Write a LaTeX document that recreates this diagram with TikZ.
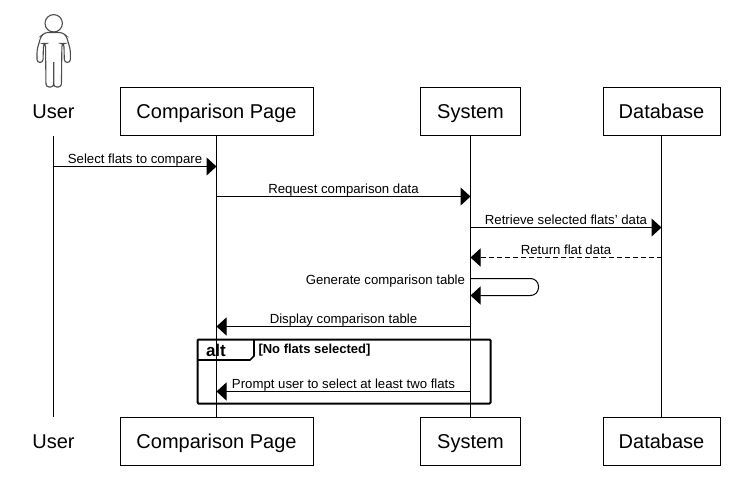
\documentclass[tikz,border=0pt]{standalone}
\usepackage{fontspec}
\setmainfont{Liberation Sans}
\usetikzlibrary{arrows.meta}

\begin{document}
\begin{tikzpicture}[x=1pt,y=-1pt,line width=1pt]
    \tikzstyle{every node}=[font=\fontsize{13.2}{15}\selectfont,inner sep=0pt]
    \tikzstyle{actorbox}=[font=\fontsize{20}{24}\selectfont,minimum height=48.5pt,text height=18pt,text depth=5pt]
    \tikzstyle{partbox}=[actorbox,draw]
    \tikzstyle{msg}=[-{Triangle[length=10pt,width=18pt]}]
    \tikzstyle{msglabel}=[above=3pt,text height=9pt,text depth=0pt]
    \useasboundingbox (0,0) rectangle (736,501);
    %% Actor figure
    \draw[line width=1.1pt,black!70] (53.7,23.3) circle (8.7);
    \draw[line width=1.1pt,black!70,rounded corners=3pt]
        (53.7,62) -- (53.7,87) -- (46,87) -- (45.5,43.5) -- (43.5,43.5) -- (43,62.5) -- (37,62.5)
        -- (37,50) -- (41,36) -- (45,32.5) -- (62.4,32.5) -- (66.4,36) -- (70.4,50) -- (70.4,62.5)
        -- (64.4,62.5) -- (63.9,43.5) -- (61.9,43.5) -- (61.4,87) -- (53.7,87) -- (53.7,80);
    %% Top row
    \node at (53.5,111.5) [actorbox] (UserTop) {User};
    \node at (216.5,111.5) [partbox,minimum width=193pt] (PageTop) {Comparison Page};
    \node at (470.5,111.5) [partbox,minimum width=100pt] (SystemTop) {System};
    \node at (661.5,111.5) [partbox,minimum width=117pt] (DbTop) {Database};
    %% Bottom row
    \node at (53.5,441.5) [actorbox] (UserBot) {User};
    \node at (216.5,441.5) [partbox,minimum width=193pt] (PageBot) {Comparison Page};
    \node at (470.5,441.5) [partbox,minimum width=100pt] (SystemBot) {System};
    \node at (661.5,441.5) [partbox,minimum width=117pt] (DbBot) {Database};
    %% Lifelines
    \draw (UserTop) -- (UserBot);
    \draw (PageTop) -- (PageBot);
    \draw (SystemTop) -- (SystemBot);
    \draw (DbTop) -- (DbBot);
    %% Message ends
    \coordinate (SelectA) at (53.5,166.5);
    \coordinate (SelectB) at (216.5,166.5);
    \coordinate (RequestA) at (216.5,196.5);
    \coordinate (RequestB) at (470.5,196.5);
    \coordinate (RetrieveA) at (470.5,227.5);
    \coordinate (RetrieveB) at (661.5,227.5);
    \coordinate (ReturnA) at (661.5,257.5);
    \coordinate (ReturnB) at (470.5,257.5);
    \coordinate (SelfA) at (470.5,278.5);
    \coordinate (SelfB) at (470.5,295.5);
    \coordinate (DisplayA) at (470.5,326.5);
    \coordinate (DisplayB) at (216.5,326.5);
    \coordinate (PromptA) at (470.5,391.5);
    \coordinate (PromptB) at (216.5,391.5);
    %% Messages
    \path
    (SelectA) edge [msg] node [msglabel] {Select flats to compare} (SelectB)
    (RequestA) edge [msg] node [msglabel] {Request comparison data} (RequestB)
    (RetrieveA) edge [msg] node [msglabel] {Retrieve selected flats' data} (RetrieveB)
    (ReturnA) edge [msg,dash pattern=on 5pt off 3pt] node [msglabel] {Return flat data} (ReturnB)
    (DisplayA) edge [msg] node [msglabel] {Display comparison table} (DisplayB)
    (PromptA) edge [msg] node [msglabel] {Prompt user to select at least two flats} (PromptB);
    \draw[msg,rounded corners=8pt] (SelfA) -- (538.5,278.5) -- (538.5,295.5) -- (SelfB);
    \node at (465.5,284) [anchor=base east] (SelfLabel) {Generate comparison table};
    %% Alt frame
    \draw[line width=2pt,rounded corners=1pt] (197.5,339.5) rectangle (490.5,403.5);
    \draw[line width=1.6pt] (197.5,360) -- (250,360) -- (254,356) -- (254,339.5);
    \node at (205.5,356) [anchor=base west,font=\fontsize{17}{19}\selectfont\bfseries] (AltTag) {alt};
    \node at (258,353) [anchor=base west,font=\fontsize{13}{15}\selectfont\bfseries] (AltGuard) {[No flats selected]};
\end{tikzpicture}
\end{document}
